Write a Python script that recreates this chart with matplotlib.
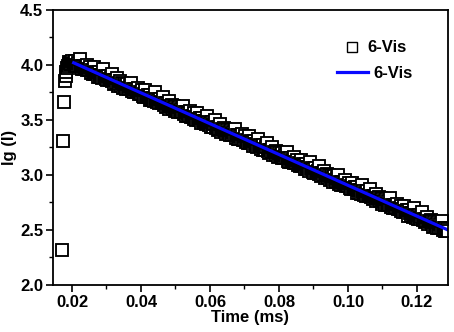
import numpy as np
import matplotlib
matplotlib.use("Agg")
import matplotlib.pyplot as plt
from matplotlib.lines import Line2D

plt.rcParams['font.family'] = ['Liberation Sans', 'DejaVu Sans']
plt.rcParams['font.weight'] = 'bold'

# rise points (Time in ms, lg(I))
rise_t = [0.0171, 0.0174, 0.0177, 0.0180, 0.0182, 0.0184, 0.0186, 0.0188,
          0.0190, 0.0192, 0.0194, 0.0196, 0.0198]
rise_y = [2.32, 3.31, 3.66, 3.85, 3.90, 3.94, 3.97, 3.99, 4.01, 4.03, 4.02,
          4.03, 4.01]

# decay points, sampled every 0.00025 ms from 0.0200 to 0.1290
decay_t = np.round(np.linspace(0.0200, 0.1290, 437), 5)
decay_y = [
    4.04, 4.01, 4.02, 3.99, 4.04, 4.00, 3.99, 4.02, 3.99, 4.05, 3.97, 3.99, 3.96, 3.99, 3.96, 3.98, 3.96, 4.00, 3.95, 3.96,
    3.95, 3.98, 3.93, 3.95, 3.92, 3.98, 3.93, 3.92, 3.94, 3.93, 3.89, 3.94, 3.91, 3.89, 3.91, 3.88, 3.96, 3.89, 3.90, 3.87,
    3.89, 3.86, 3.90, 3.87, 3.86, 3.88, 3.92, 3.85, 3.86, 3.83, 3.86, 3.84, 3.88, 3.81, 3.84, 3.83, 3.85, 3.81, 3.84, 3.79,
    3.83, 3.80, 3.81, 3.78, 3.83, 3.79, 3.78, 3.81, 3.78, 3.84, 3.76, 3.78, 3.75, 3.78, 3.75, 3.77, 3.75, 3.79, 3.74, 3.75,
    3.74, 3.77, 3.72, 3.74, 3.71, 3.77, 3.72, 3.71, 3.73, 3.72, 3.68, 3.73, 3.70, 3.68, 3.70, 3.67, 3.75, 3.68, 3.69, 3.66,
    3.68, 3.65, 3.69, 3.66, 3.65, 3.67, 3.71, 3.64, 3.65, 3.62, 3.65, 3.63, 3.67, 3.60, 3.63, 3.62, 3.64, 3.60, 3.63, 3.58,
    3.62, 3.59, 3.60, 3.57, 3.62, 3.58, 3.57, 3.60, 3.57, 3.63, 3.55, 3.57, 3.54, 3.57, 3.54, 3.56, 3.54, 3.58, 3.53, 3.54,
    3.53, 3.56, 3.51, 3.53, 3.50, 3.56, 3.51, 3.50, 3.52, 3.51, 3.47, 3.52, 3.49, 3.47, 3.49, 3.46, 3.54, 3.47, 3.48, 3.45,
    3.47, 3.44, 3.48, 3.45, 3.44, 3.46, 3.50, 3.43, 3.44, 3.41, 3.44, 3.42, 3.46, 3.39, 3.42, 3.41, 3.43, 3.39, 3.42, 3.37,
    3.41, 3.38, 3.39, 3.36, 3.41, 3.37, 3.36, 3.39, 3.36, 3.42, 3.34, 3.36, 3.33, 3.36, 3.33, 3.35, 3.33, 3.37, 3.32, 3.33,
    3.32, 3.35, 3.30, 3.32, 3.29, 3.35, 3.30, 3.29, 3.31, 3.30, 3.26, 3.31, 3.28, 3.26, 3.28, 3.25, 3.33, 3.26, 3.27, 3.24,
    3.26, 3.23, 3.27, 3.24, 3.23, 3.25, 3.29, 3.22, 3.23, 3.20, 3.23, 3.21, 3.25, 3.18, 3.21, 3.20, 3.22, 3.18, 3.21, 3.16,
    3.20, 3.17, 3.18, 3.15, 3.20, 3.16, 3.15, 3.18, 3.15, 3.21, 3.13, 3.15, 3.12, 3.15, 3.12, 3.14, 3.12, 3.16, 3.11, 3.12,
    3.11, 3.14, 3.09, 3.11, 3.08, 3.14, 3.09, 3.08, 3.10, 3.09, 3.05, 3.10, 3.07, 3.05, 3.07, 3.04, 3.12, 3.05, 3.06, 3.03,
    3.05, 3.02, 3.06, 3.03, 3.02, 3.04, 3.08, 3.01, 3.02, 2.99, 3.02, 3.00, 3.04, 2.97, 3.00, 2.99, 3.01, 2.97, 3.00, 2.95,
    2.99, 2.96, 2.97, 2.94, 2.99, 2.95, 2.94, 2.97, 2.94, 3.00, 2.92, 2.94, 2.91, 2.94, 2.91, 2.93, 2.91, 2.95, 2.90, 2.91,
    2.90, 2.93, 2.88, 2.90, 2.87, 2.93, 2.88, 2.87, 2.89, 2.88, 2.84, 2.89, 2.86, 2.84, 2.86, 2.83, 2.91, 2.84, 2.85, 2.82,
    2.84, 2.81, 2.85, 2.82, 2.81, 2.83, 2.87, 2.80, 2.81, 2.78, 2.81, 2.79, 2.83, 2.76, 2.79, 2.78, 2.80, 2.76, 2.79, 2.74,
    2.78, 2.75, 2.76, 2.73, 2.78, 2.74, 2.73, 2.76, 2.73, 2.79, 2.71, 2.73, 2.70, 2.73, 2.70, 2.72, 2.70, 2.74, 2.69, 2.70,
    2.69, 2.72, 2.67, 2.69, 2.66, 2.72, 2.67, 2.66, 2.68, 2.67, 2.63, 2.68, 2.65, 2.63, 2.65, 2.62, 2.70, 2.63, 2.64, 2.61,
    2.63, 2.60, 2.64, 2.61, 2.60, 2.62, 2.66, 2.59, 2.60, 2.57, 2.60, 2.58, 2.62, 2.55, 2.58, 2.57, 2.59, 2.55, 2.58, 2.53,
    2.57, 2.54, 2.55, 2.52, 2.57, 2.53, 2.52, 2.55, 2.52, 2.58, 2.50, 2.52, 2.49, 2.52, 2.49, 2.51, 2.49,
]

# fitted line endpoints
fit_t = [0.0205, 0.1290]
fit_y = [4.02, 2.50]

series_label = "6-Vis"
x_ticks = [0.02, 0.04, 0.06, 0.08, 0.10, 0.12]
y_ticks = [2.0, 2.5, 3.0, 3.5, 4.0, 4.5]

fig = plt.figure(figsize=(4.54, 3.32), dpi=100)
ax = fig.add_axes([0.1167, 0.1416, 0.8701, 0.8283])

all_t = list(rise_t) + list(decay_t)
all_y = list(rise_y) + list(decay_y)
ax.plot(all_t, all_y, linestyle='none', marker='s', markersize=8.0,
        markerfacecolor='white', markeredgecolor='black', markeredgewidth=1.35)
ax.plot(fit_t, fit_y, color='#0a0aff', linewidth=2.3)

ax.set_xlim(0.0145, 0.129)
ax.set_ylim(2.0, 4.5)
ax.set_xticks(x_ticks)
ax.set_xticklabels([f"{v:.2f}" for v in x_ticks])
ax.set_yticks(y_ticks)
ax.set_yticklabels([f"{v:.1f}" for v in y_ticks])
ax.set_xticks([0.03, 0.05, 0.07, 0.09, 0.11], minor=True)
ax.set_yticks([2.25, 2.75, 3.25, 3.75, 4.25], minor=True)
ax.tick_params(axis='both', which='major', direction='out', length=5, width=1.2,
               labelsize=12, pad=2)
ax.tick_params(axis='both', which='minor', direction='out', length=3, width=1.0)
for lab in ax.get_xticklabels() + ax.get_yticklabels():
    lab.set_fontweight('bold')
for s in ax.spines.values():
    s.set_linewidth(1.3)

ax.set_xlabel("Time (ms)", fontsize=12, fontweight='bold', labelpad=0)
ax.set_ylabel("lg (I)", fontsize=12, fontweight='bold', labelpad=2)

fs = 12
h1 = Line2D([], [], linestyle='none', marker='s', markersize=7,
            markerfacecolor='white', markeredgecolor='black', markeredgewidth=1.0)
leg1 = fig.legend([h1], [series_label], loc='center left',
                  bbox_to_anchor=(344 / 454, 1 - 48 / 332), frameon=False,
                  borderpad=0, borderaxespad=0, handlelength=1.0,
                  handletextpad=0.38, prop={'size': fs, 'weight': 'bold'})
h2 = Line2D([], [], color='#0a0aff', linewidth=2.3)
leg2 = fig.legend([h2], [series_label], loc='center left',
                  bbox_to_anchor=(337 / 454, 1 - 73 / 332), frameon=False,
                  borderpad=0, borderaxespad=0, handlelength=1.86,
                  handletextpad=0.3, prop={'size': fs, 'weight': 'bold'})

fig.savefig("out.png", dpi=100)
